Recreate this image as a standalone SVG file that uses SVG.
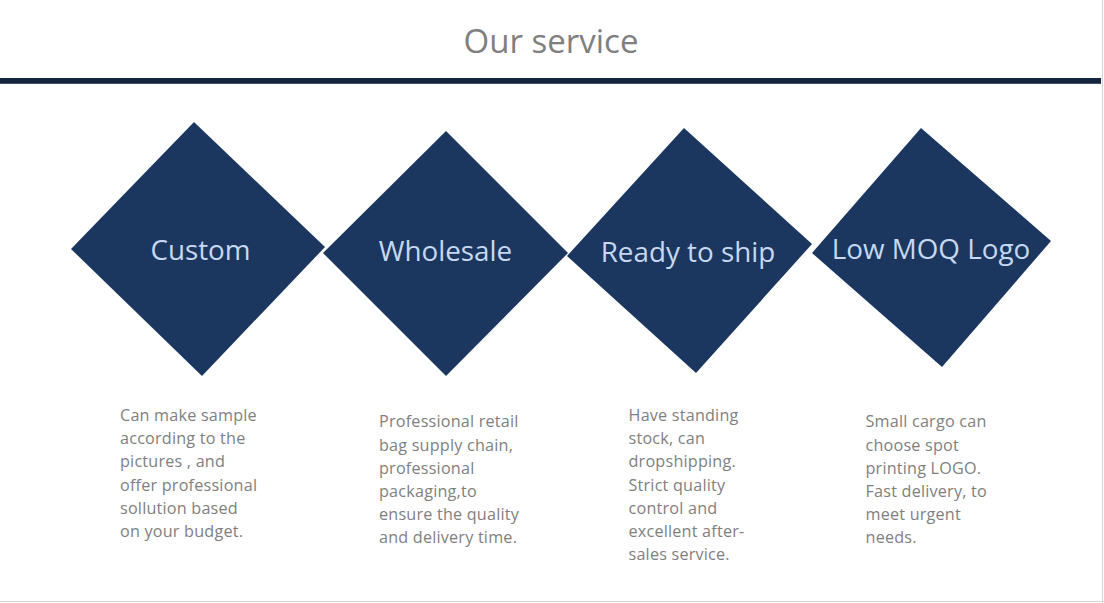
<svg xmlns="http://www.w3.org/2000/svg" width="1104" height="603" viewBox="0 0 1104 603">
<style>
.title{font-family:"Open Sans","Liberation Sans",sans-serif;font-size:33px;fill:#7f7f7f;text-anchor:middle}
.dia{fill:#1b3760}
.lbl{font-family:"Open Sans","Liberation Sans",sans-serif;font-size:27.8px;fill:#c6d9f1;text-anchor:middle}
.body{font-family:"Open Sans","Liberation Sans",sans-serif;font-size:16.2px;letter-spacing:0.2px;fill:#7f7f7f}
</style>
<rect x="0" y="0" width="1104" height="603" fill="#ffffff"/>
<line x1="1102.5" y1="0" x2="1102.5" y2="603" stroke="#d4d4d4" stroke-width="1"/>
<line x1="0" y1="601.5" x2="1104" y2="601.5" stroke="#d4d4d4" stroke-width="1"/>
<g id="header">
<text class="title" x="551" y="53">Our service</text>
<rect x="0" y="78" width="1101" height="5.8" fill="#15243f"/>
</g>
<g id="node-custom">
<polygon class="dia" points="194,122 325,247 202,376 71,249"/>
<text class="lbl" x="200.5" y="260">Custom</text>
<text class="body"><tspan x="120" y="421">Can make sample</tspan><tspan x="120" y="444.2">according to the</tspan><tspan x="120" y="467.4">pictures , and</tspan><tspan x="120" y="490.6">offer professional</tspan><tspan x="120" y="513.8">sollution based</tspan><tspan x="120" y="537">on your budget.</tspan></text>
</g>
<g id="node-wholesale">
<polygon class="dia" points="446,131 568,253 446,376 323,253"/>
<text class="lbl" x="445.5" y="260.5">Wholesale</text>
<text class="body"><tspan x="379" y="427.3">Professional retail</tspan><tspan x="379" y="450.5">bag supply chain,</tspan><tspan x="379" y="473.7">professional</tspan><tspan x="379" y="496.9">packaging,to</tspan><tspan x="379" y="520.1">ensure the quality</tspan><tspan x="379" y="543.3">and delivery time.</tspan></text>
</g>
<g id="node-ready">
<polygon class="dia" points="684,128 812,244 696,373 567,256"/>
<text class="lbl" x="688" y="262">Ready to ship</text>
<text class="body"><tspan x="628.5" y="421">Have standing</tspan><tspan x="628.5" y="444.2">stock, can</tspan><tspan x="628.5" y="467.4">dropshipping.</tspan><tspan x="628.5" y="490.6">Strict quality</tspan><tspan x="628.5" y="513.8">control and</tspan><tspan x="628.5" y="537">excellent after-</tspan><tspan x="628.5" y="560.2">sales service.</tspan></text>
</g>
<g id="node-lowmoq">
<polygon class="dia" points="921,128 1051,241 942,367 812,253"/>
<text class="lbl" x="931" y="259">Low MOQ Logo</text>
<text class="body"><tspan x="865.5" y="427.3">Small cargo can</tspan><tspan x="865.5" y="450.5">choose spot</tspan><tspan x="865.5" y="473.7">printing LOGO.</tspan><tspan x="865.5" y="496.9">Fast delivery, to</tspan><tspan x="865.5" y="520.1">meet urgent</tspan><tspan x="865.5" y="543.3">needs.</tspan></text>
</g>
</svg>
